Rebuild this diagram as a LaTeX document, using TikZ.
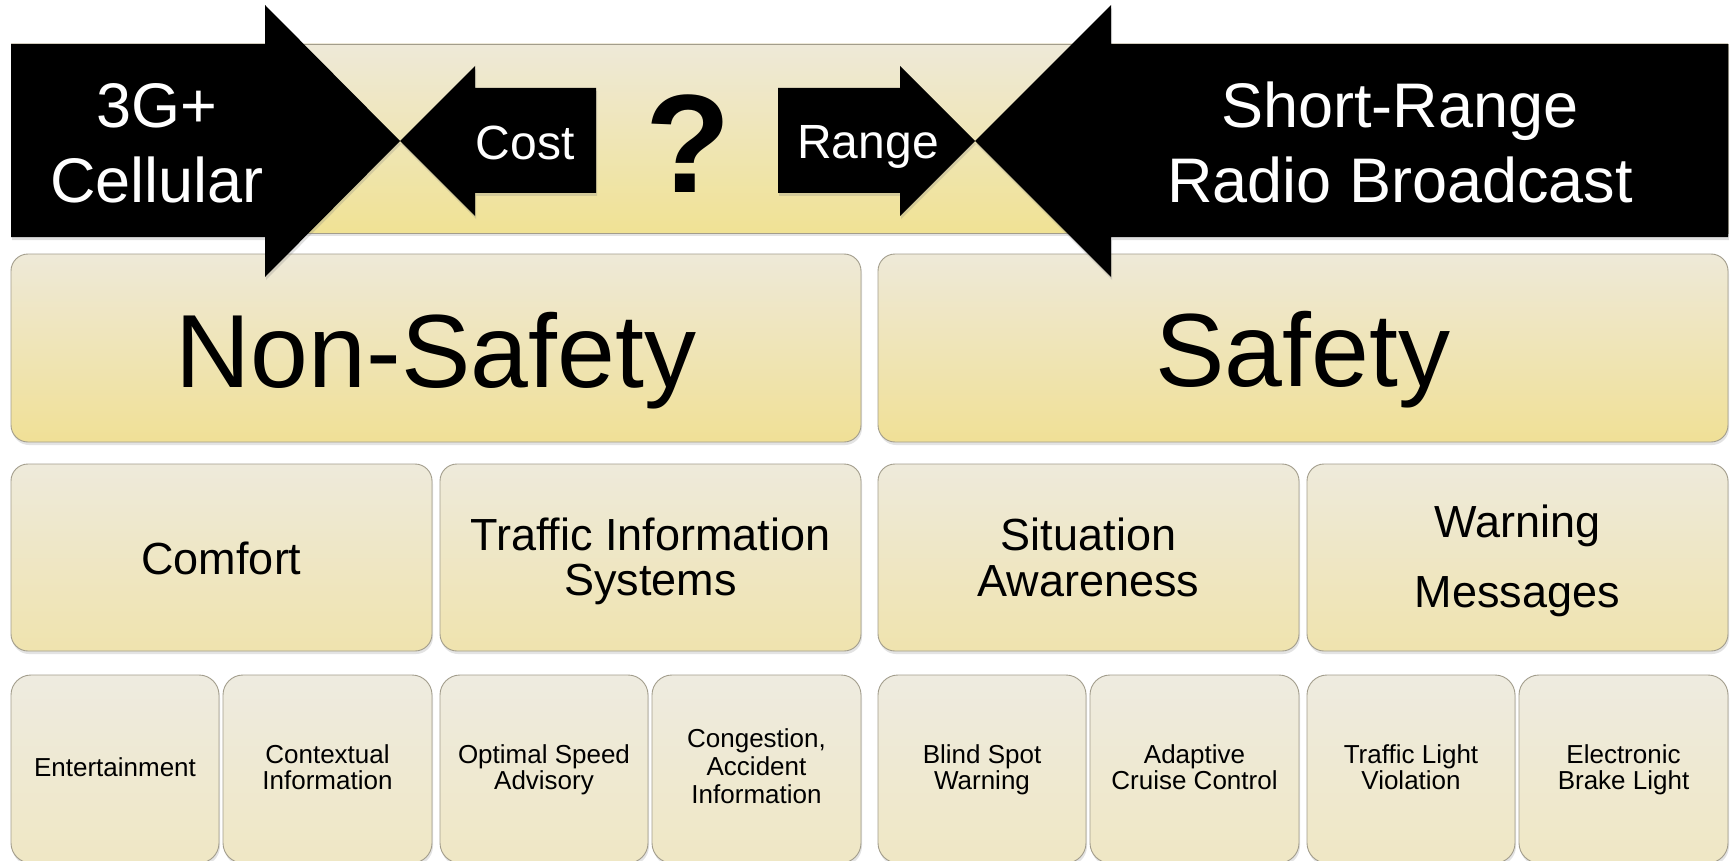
\documentclass[tikz,border=0pt]{standalone}
\usepackage{fontspec}
\setmainfont{Liberation Sans}
\usetikzlibrary{shadows}

\definecolor{bandtop}{HTML}{EEE9D8}
\definecolor{bandbot}{HTML}{F0E294}
\definecolor{bigtop}{HTML}{EEE9D8}
\definecolor{bigbot}{HTML}{F0E096}
\definecolor{midtop}{HTML}{EEEADB}
\definecolor{midbot}{HTML}{EFE3AE}
\definecolor{lowtop}{HTML}{EEEBE0}
\definecolor{lowbot}{HTML}{EFE7C4}
\definecolor{edgegray}{HTML}{A29D8C}

% font sizes (1pt = one unit of the drawing)
\newcommand\fntArrow{\fontsize{63}{74}\selectfont}
\newcommand\fntTag{\fontsize{48}{56}\selectfont}
\newcommand\fntQmark{\fontsize{140}{160}\selectfont\bfseries}
\newcommand\fntHuge{\fontsize{104}{120}\selectfont}
\newcommand\fntMid{\fontsize{45}{52}\selectfont}
\newcommand\fntLow{\fontsize{26}{30}\selectfont}

% rounded box: name, x0, y0, x1, y1, style
\newcommand\cellbox[6]{%
  \node[#6, minimum width={(#4-#2)*1pt}, minimum height={(#5-#3)*1pt}]
    (#1) at ({(#2+#4)/2},{(#3+#5)/2}) {};}

% black label on its baseline: name, baseline x, baseline y, font, text
\newcommand\shtext[5]{%
  \node[anchor=base, inner sep=0pt, text=black, font=#4] (#1) at (#2,#3) {#5};}

\begin{document}
\begin{tikzpicture}[x=1pt, y=-1pt,
  boxbase/.style={draw=edgegray, line width=0.9pt, inner sep=0pt, outer sep=0pt,
    drop shadow={shadow xshift=1pt, shadow yshift=-3pt, opacity=0.22}},
  bigbox/.style={boxbase, rounded corners=17pt, top color=bigtop, bottom color=bigbot},
  midbox/.style={boxbase, rounded corners=17pt, top color=midtop, bottom color=midbot},
  lowbox/.style={boxbase, rounded corners=20pt, top color=lowtop, bottom color=lowbot},
  blackarrow/.style={fill=black,
    drop shadow={shadow xshift=1pt, shadow yshift=-3pt, opacity=0.25}},
  whitetxt/.style={anchor=base, inner sep=0pt, text=white}]

\useasboundingbox (0,0) rectangle (1731,861);
\fill[white] (0,0) rectangle (1731,861);

% header band
\path[draw=edgegray, line width=0.9pt, top color=bandtop, bottom color=bandbot,
  drop shadow={shadow xshift=1pt, shadow yshift=-3pt, opacity=0.22}]
  (11,44) rectangle (1728,233);

% category boxes
\cellbox{nonsafety}{11}{254}{861}{442}{bigbox}
\cellbox{safety}{878}{254}{1728}{442}{bigbox}

\cellbox{comfort}{11}{464}{432}{651}{midbox}
\cellbox{tis}{440}{464}{861}{651}{midbox}
\cellbox{situation}{878}{464}{1299}{651}{midbox}
\cellbox{warning}{1307}{464}{1728}{651}{midbox}

\cellbox{ent}{11}{675}{219}{863}{lowbox}
\cellbox{ctx}{223}{675}{432}{863}{lowbox}
\cellbox{osa}{440}{675}{648}{863}{lowbox}
\cellbox{cong}{652}{675}{861}{863}{lowbox}
\cellbox{blind}{878}{675}{1086}{863}{lowbox}
\cellbox{acc}{1090}{675}{1299}{863}{lowbox}
\cellbox{tlv}{1307}{675}{1515}{863}{lowbox}
\cellbox{ebl}{1519}{675}{1728}{863}{lowbox}

% arrows
\path[blackarrow] (11,44) -- (265,44) -- (265,5) -- (400,141) -- (265,277)
  -- (265,237) -- (11,237) -- cycle;
\path[blackarrow] (596,88) -- (475,88) -- (475,66) -- (400,141) -- (475,216)
  -- (475,193) -- (596,193) -- cycle;
\path[blackarrow] (778,88) -- (900,88) -- (900,66) -- (975,141) -- (900,216)
  -- (900,193) -- (778,193) -- cycle;
\path[blackarrow] (1728,44) -- (1111,44) -- (1111,5) -- (975,141) -- (1111,277)
  -- (1111,237) -- (1728,237) -- cycle;

% arrow labels
\node[whitetxt, font=\fntArrow] (cellA) at (157,128) {3G+};
\node[whitetxt, font=\fntArrow] (cellB) at (157,202) {Cellular};
\node[whitetxt, font=\fntArrow] (radioA) at (1400,128) {Short-Range};
\node[whitetxt, font=\fntArrow] (radioB) at (1400,202) {Radio Broadcast};
\node[whitetxt, font=\fntTag] (cost) at (525,160) {Cost};
\node[whitetxt, font=\fntTag] (range) at (868,159) {Range};
\shtext{qmark}{688}{193}{\fntQmark}{?}

% category labels
\shtext{tNS}{436}{387}{\fntHuge}{Non-Safety}
\shtext{tS}{1303}{386}{\fntHuge}{Safety}

\shtext{tC}{221.5}{574}{\fntMid}{Comfort}
\shtext{tTa}{650.5}{550}{\fntMid}{Traffic Information}
\shtext{tTb}{650.5}{595}{\fntMid}{Systems}
\shtext{tSa}{1088.5}{550}{\fntMid}{Situation}
\shtext{tSb}{1088.5}{596}{\fntMid}{Awareness}
\shtext{tWa}{1517.5}{537}{\fntMid}{Warning}
\shtext{tWb}{1517.5}{607}{\fntMid}{Messages}

\shtext{tE}{115}{776}{\fntLow}{Entertainment}
\shtext{tCa}{327.5}{763}{\fntLow}{Contextual}
\shtext{tCb}{327.5}{789}{\fntLow}{Information}
\shtext{tOa}{544}{763}{\fntLow}{Optimal Speed}
\shtext{tOb}{544}{789}{\fntLow}{Advisory}
\shtext{tGa}{756.5}{747}{\fntLow}{Congestion,}
\shtext{tGb}{756.5}{775}{\fntLow}{Accident}
\shtext{tGc}{756.5}{803}{\fntLow}{Information}
\shtext{tBa}{982}{763}{\fntLow}{Blind Spot}
\shtext{tBb}{982}{789}{\fntLow}{Warning}
\shtext{tAa}{1194.5}{763}{\fntLow}{Adaptive}
\shtext{tAb}{1194.5}{789}{\fntLow}{Cruise Control}
\shtext{tLa}{1411}{763}{\fntLow}{Traffic Light}
\shtext{tLb}{1411}{789}{\fntLow}{Violation}
\shtext{tEa}{1623.5}{763}{\fntLow}{Electronic}
\shtext{tEb}{1623.5}{789}{\fntLow}{Brake Light}
\end{tikzpicture}
\end{document}
